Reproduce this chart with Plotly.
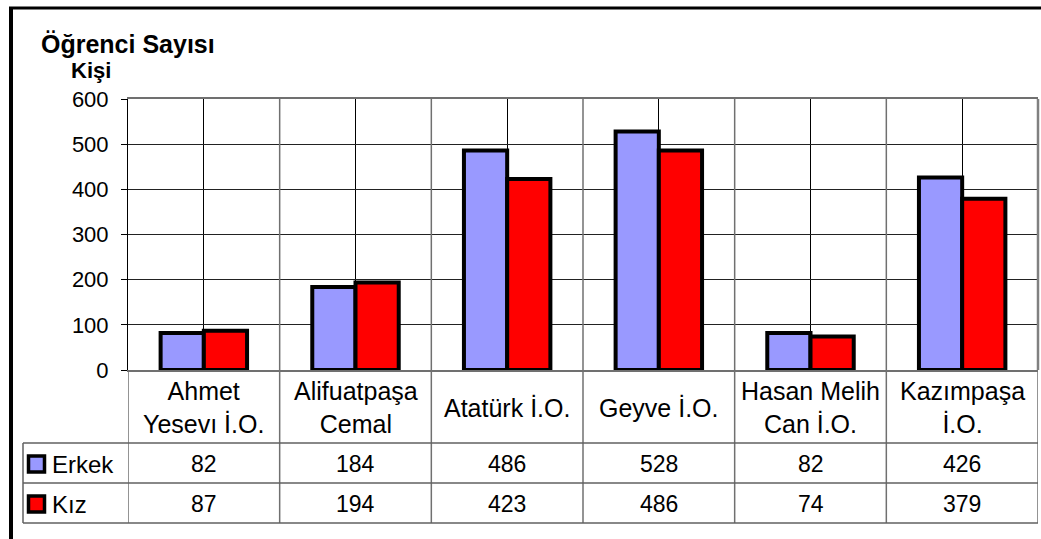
import plotly.graph_objects as go

categories = ["Ahmet Yesevı İ.O.", "Alifuatpaşa Cemal", "Atatürk İ.O.", "Geyve İ.O.",
              "Hasan Melih Can İ.O.", "Kazımpaşa İ.O."]
cat_labels = ["Ahmet<br>Yesevı İ.O.", "Alifuatpaşa<br>Cemal", "Atatürk İ.O.", "Geyve İ.O.",
              "Hasan Melih<br>Can İ.O.", "Kazımpaşa<br>İ.O."]
erkek = [82, 184, 486, 528, 82, 426]
kiz = [87, 194, 423, 486, 74, 379]
series_names = ["Erkek", "Kız"]
series_colors = ["#9999FF", "#FF0000"]
y_ticks = [0, 100, 200, 300, 400, 500, 600]
title_text = "Öğrenci Sayısı"
unit_text = "Kişi"

W, H = 1041, 539
FONT = "Liberation Sans, Arial, sans-serif"


def X(px):
    return px / W


def Y(py):
    return 1 - py / H


PL, PR, PT, PB = 128, 1038, 99, 370  # plot area pixels
ROW1, ROW2, ROW3 = 443, 483, 523      # table row lines
TL = 23                               # table left

fig = go.Figure()
for name, vals, col in zip(series_names, [erkek, kiz], series_colors):
    fig.add_trace(go.Bar(x=categories, y=vals, name=name,
                         marker=dict(color=col, line=dict(color="black", width=4))))

n = len(categories)
shapes = []
# grey category boundary lines
for i in range(n + 1):
    b = i - 0.5
    top = PB if i == 0 else PT
    shapes.append(dict(type="line", xref="x", yref="paper", x0=b, x1=b, y0=Y(top), y1=Y(ROW3),
                       line=dict(color="#707070", width=1.5)))
# table horizontal lines
for r in [ROW1, ROW2, ROW3]:
    shapes.append(dict(type="line", xref="paper", yref="paper", x0=X(TL), x1=X(PR), y0=Y(r), y1=Y(r),
                       line=dict(color="#606060", width=1.5)))
shapes.append(dict(type="line", xref="paper", yref="paper", x0=X(TL), x1=X(TL), y0=Y(ROW1), y1=Y(ROW3),
                   line=dict(color="#606060", width=1.5)))
# right plot border
shapes.append(dict(type="line", xref="paper", yref="paper", x0=X(PR), x1=X(PR), y0=Y(PT), y1=Y(PB),
                   line=dict(color="#808080", width=2.5)))
# outer frame
shapes.append(dict(type="line", xref="paper", yref="paper", x0=X(9), x1=1, y0=Y(8), y1=Y(8),
                   line=dict(color="black", width=3)))
shapes.append(dict(type="line", xref="paper", yref="paper", x0=X(11), x1=X(11), y0=Y(7), y1=0,
                   line=dict(color="black", width=4)))
# legend keys
for row_c, col in zip([464, 504], series_colors):
    shapes.append(dict(type="rect", xref="paper", yref="paper", x0=X(28.5), x1=X(44.5), y0=Y(row_c - 8),
                       y1=Y(row_c + 8), fillcolor=col, line=dict(color="black", width=3.5)))

annotations = []
for c, lab in zip(categories, cat_labels):
    annotations.append(dict(x=c, xref="x", y=Y((PB + ROW1) / 2 + 1), yref="paper", text=lab, showarrow=False,
                            font=dict(family=FONT, size=25, color="black"), xanchor="center",
                            yanchor="middle"))
for vals, row_c in zip([erkek, kiz], [464, 504]):
    for c, v in zip(categories, vals):
        annotations.append(dict(x=c, xref="x", y=Y(row_c), yref="paper", text=str(v), showarrow=False,
                                font=dict(family=FONT, size=23, color="black"), xanchor="center",
                                yanchor="middle"))
for name, row_c in zip(series_names, [464, 504]):
    annotations.append(dict(x=X(50), xref="paper", y=Y(row_c), yref="paper", text=name, showarrow=False,
                            font=dict(family=FONT, size=24, color="black"), xanchor="left",
                            yanchor="middle"))
annotations.append(dict(x=X(39), xref="paper", y=Y(44), yref="paper", text="<b>" + title_text + "</b>",
                        showarrow=False, font=dict(family=FONT, size=25, color="black"),
                        xanchor="left", yanchor="middle"))
annotations.append(dict(x=X(91), xref="paper", y=Y(70), yref="paper", text="<b>" + unit_text + "</b>",
                        showarrow=False, font=dict(family=FONT, size=22, color="black"),
                        xanchor="center", yanchor="middle"))

fig.update_layout(
    width=W, height=H, autosize=False,
    margin=dict(l=0, r=0, t=0, b=0, pad=0, autoexpand=False),
    paper_bgcolor="white", plot_bgcolor="white",
    barmode="group", bargap=0.43, bargroupgap=0,
    showlegend=False,
    shapes=shapes, annotations=annotations,
    xaxis=dict(domain=[X(PL), X(PR)], range=[-0.5, n - 0.5], showticklabels=False, ticks="",
               showgrid=True, gridcolor="black", gridwidth=1, showline=True, mirror=True,
               linecolor="#707070", linewidth=2, zeroline=False, fixedrange=True, automargin=False),
    yaxis=dict(domain=[Y(PB), Y(PT)], range=[0, 600], tickvals=y_ticks, ticks="outside", ticklen=6,
               tickcolor="black", tickfont=dict(family=FONT, size=22, color="black"),
               showgrid=True, gridcolor="#222222", gridwidth=1, showline=True, linecolor="black",
               linewidth=1, zeroline=False, ticklabelstandoff=8, fixedrange=True, automargin=False),
)

post = (
    "var gd=document.getElementById('{plot_id}');"
    "document.documentElement.style.margin='0';document.documentElement.style.overflow='hidden';"
    "document.body.style.margin='0';document.body.style.overflow='hidden';"
    "gd.style.position='absolute';gd.style.left='0px';gd.style.top='0px';"
)

fig.write_html("out.html", post_script=post, config={"displayModeBar": False})
